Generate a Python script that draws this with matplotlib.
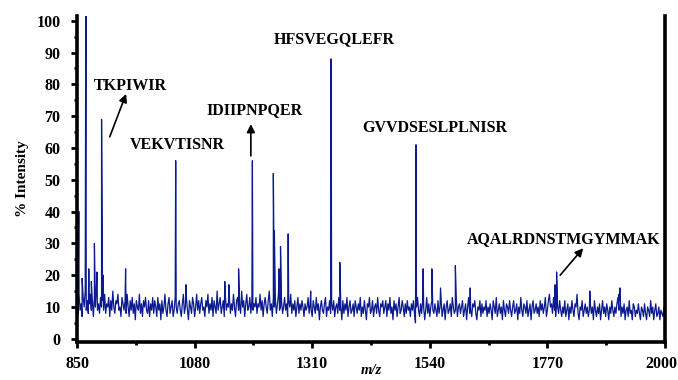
import numpy as np
import matplotlib
matplotlib.use("Agg")
import matplotlib.pyplot as plt
import matplotlib.transforms as mtransforms
from matplotlib.ticker import MultipleLocator, FixedLocator

# baseline noise, one value every 2 m/z units from 850 to 2000
NOISE_START = 850
NOISE_STEP = 2
noise = [
    12, 8, 14, 9, 11, 7, 13, 10, 15, 9, 12, 8, 11, 14, 9, 12, 7, 13, 10, 16, 9, 11, 8, 13, 10,
    12, 9, 14, 8, 11, 10, 13, 7, 12, 9, 15, 10, 8, 12, 11, 14, 9, 10, 7, 13, 11, 9, 12, 8, 14,
    10, 7, 12, 9, 13, 8, 11, 6, 12, 10, 9, 14, 8, 11, 7, 12, 10, 13, 9, 8, 12, 7, 11, 9, 13,
    8, 12, 10, 7, 13, 9, 11, 6, 12, 8, 10, 14, 9, 7, 11, 13, 8, 10, 12, 7, 9, 13, 10, 8, 11,
    12, 9, 7, 11, 14, 8, 10, 13, 9, 6, 12, 10, 8, 13, 11, 7, 10, 14, 9, 12, 8, 11, 13, 9, 10,
    7, 12, 10, 14, 8, 11, 9, 13, 7, 12, 10, 8, 15, 9, 11, 13, 8, 10, 12, 7, 14, 9, 11, 10, 13,
    8, 11, 9, 14, 10, 7, 12, 13, 9, 11, 8, 15, 10, 12, 7, 11, 14, 9, 10, 13, 8, 12, 9, 11, 10,
    13, 8, 11, 10, 14, 9, 12, 7, 11, 13, 10, 8, 12, 15, 9, 11, 7, 13, 10, 12, 8, 11, 14, 9, 10,
    12, 8, 10, 13, 9, 11, 7, 12, 10, 14, 8, 11, 9, 12, 7, 10, 13, 8, 11, 9, 12, 10, 7, 11, 9,
    10, 13, 8, 11, 9, 7, 12, 10, 8, 13, 9, 11, 6, 10, 12, 9, 8, 11, 13, 7, 10, 9, 12, 8, 11,
    9, 12, 7, 10, 11, 8, 13, 9, 10, 6, 12, 8, 11, 9, 13, 7, 10, 12, 8, 9, 11, 7, 12, 10, 8,
    11, 9, 13, 7, 10, 8, 12, 9, 6, 11, 10, 13, 8, 9, 12, 7, 10, 11, 8, 13, 9, 7, 11, 10, 12,
    8, 10, 12, 7, 11, 9, 13, 8, 10, 6, 12, 9, 11, 7, 10, 13, 8, 9, 12, 10, 7, 11, 8, 12, 9,
    10, 7, 11, 9, 12, 8, 5, 10, 13, 9, 7, 11, 8, 12, 10, 6, 9, 13, 8, 11, 7, 10, 12, 9, 8,
    11, 9, 7, 12, 8, 10, 13, 7, 9, 11, 6, 10, 12, 8, 9, 11, 7, 13, 10, 8, 9, 12, 7, 10, 11,
    8, 10, 12, 7, 9, 11, 6, 10, 13, 8, 9, 7, 11, 10, 12, 8, 6, 10, 9, 12, 7, 11, 8, 10, 9,
    12, 7, 10, 8, 11, 9, 6, 12, 10, 8, 13, 7, 9, 11, 8, 10, 6, 12, 9, 7, 11, 10, 8, 12, 9,
    7, 10, 12, 8, 9, 11, 6, 10, 8, 13, 9, 7, 11, 10, 8, 12, 7, 9, 11, 6, 10, 12, 8, 9, 11,
    8, 10, 7, 12, 9, 11, 8, 10, 13, 7, 9, 12, 14, 10, 11, 8, 13, 9, 7, 11, 10, 8, 12, 9, 7,
    10, 8, 12, 7, 9, 11, 6, 10, 8, 12, 9, 7, 11, 10, 14, 8, 6, 10, 9, 12, 7, 9, 11, 8, 10,
    7, 9, 11, 8, 10, 6, 12, 9, 7, 10, 8, 11, 6, 9, 12, 8, 10, 7, 11, 9, 6, 10, 8, 12, 9,
    7, 10, 8, 11, 13, 9, 12, 7, 10, 8, 11, 6, 9, 10, 7, 12, 8, 9, 6, 11, 10, 7, 9, 8, 11,
    8, 6, 10, 9, 7, 11, 8, 6, 10, 9, 7, 12, 8, 10, 6, 9, 11, 7, 8, 10, 6, 9, 8, 7, 10,
    8,
]

# peak m/z and % intensity
peak_mz = [853.5, 860, 867.5, 873, 878, 884, 889, 898, 901, 945,
           1043, 1063, 1139, 1147, 1166, 1193, 1234, 1236, 1245, 1248,
           1263, 1307, 1347, 1364, 1513, 1527, 1544, 1561, 1590, 1619,
           1785, 1788, 1853, 1910, 1912]
peak_int = [40, 19, 130, 22, 18, 30, 21, 69, 20, 22,
            56, 17, 18, 17, 22, 56, 52, 34, 22, 29,
            33, 15, 88, 24, 61, 22, 22, 16, 23, 16,
            17, 21, 15, 14, 16]

# peptide labels: text, position
labels = ["TKPIWIR", "VEKVTISNR", "IDIIPNPQER", "HFSVEGQLEFR",
          "GVVDSESLPLNISR", "AQALRDNSTMGYMMAK"]
label_mz = [954, 1047, 1198, 1353, 1549, 1801]
label_y = [79.5, 61, 72, 94.2, 66.2, 31.3]
# arrows: (tail mz, tail y) -> (head mz, head y)
arrows = [((914, 63.5), (946, 77)),
          ((1190, 57.5), (1190, 67.5)),
          ((1795, 20), (1840, 28.5))]

BLUE = "#0b1a8f"

mz = np.concatenate([NOISE_START + NOISE_STEP * np.arange(len(noise)), peak_mz])
inten = np.concatenate([noise, peak_int])
order = np.argsort(mz, kind="stable")
mz, inten = mz[order], inten[order]

plt.rcParams["font.family"] = ["Liberation Serif", "DejaVu Serif"]

fig = plt.figure(figsize=(6.78, 3.8), dpi=100, facecolor="white")
ax = fig.add_axes([0.1136, 0.1, 0.8672, 0.858])

ax.plot(mz, inten, color=BLUE, lw=0.9)

ax.set_xlim(850, 2000)
ax.set_ylim(-1, 101.5)

ax.xaxis.set_major_locator(FixedLocator([850, 1080, 1310, 1540, 1770, 2000]))
ax.xaxis.set_minor_locator(FixedLocator([965, 1195, 1425, 1655, 1885]))
ax.yaxis.set_major_locator(FixedLocator(list(range(0, 101, 10))))
ax.yaxis.set_minor_locator(MultipleLocator(5))

ax.spines["top"].set_visible(False)
for side in ["left", "bottom", "right"]:
    ax.spines[side].set_linewidth(2.6)
    ax.spines[side].set_color("black")

ax.tick_params(which="both", direction="out", color="black", width=2)
ax.tick_params(which="major", length=4, labelsize=11.5)
ax.tick_params(which="minor", length=2.5)
ax.tick_params(axis="y", pad=8)
ax.tick_params(axis="x", pad=6)
for lab in ax.get_xticklabels() + ax.get_yticklabels():
    lab.set_fontweight("bold")
# last x label sits a bit inside, as in the original
last = ax.get_xticklabels()[-1]
last.set_transform(last.get_transform() +
                   mtransforms.ScaledTranslation(-4 / 100, 0, fig.dpi_scale_trans))

ax.set_ylabel("% Intensity", fontsize=11, fontweight="bold", labelpad=5)
ax.set_xlabel("m/z", fontsize=10.5, fontweight="bold", style="italic")
ax.xaxis.set_label_coords(0.5, -0.068)

for t, x, y in zip(labels, label_mz, label_y):
    ax.text(x, y, t, ha="center", va="center", fontsize=11.5, fontweight="bold")

for (tx, ty), (hx, hy) in arrows:
    ax.annotate("", xy=(hx, hy), xytext=(tx, ty),
                arrowprops=dict(arrowstyle="-|>", color="black", lw=1.2,
                                mutation_scale=12, shrinkA=0, shrinkB=0))

fig.savefig("out.png", dpi=100, facecolor="white")
